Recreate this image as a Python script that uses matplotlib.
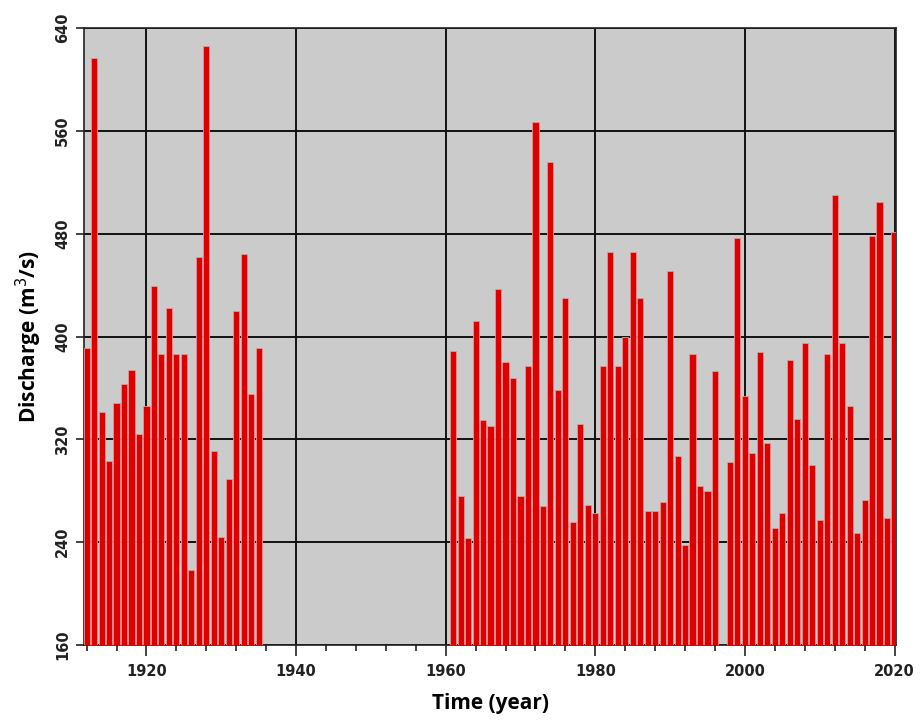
import numpy as np
import matplotlib.pyplot as plt
from matplotlib.ticker import MultipleLocator

# annual discharge, early record
years_early = list(range(1912, 1936))
flow_early = [391, 617, 341, 303, 348, 363, 374, 324, 346, 439, 386, 422,
              386, 386, 218, 462, 626, 311, 244, 289, 420, 464, 355, 391]

# annual discharge, modern record (1997 missing)
years_late = [y for y in range(1961, 2021) if y != 1997]
flow_late = [389, 276, 243, 412, 335, 330, 437, 380, 368, 276,
             377, 567, 268, 536, 358, 430, 256, 332, 269, 263,
             377, 466, 377, 400, 466, 430, 264, 264, 271, 451,
             307, 238, 386, 284, 280, 373,
             302, 477, 354, 309, 388, 317, 251, 263, 382, 336,
             395, 300, 257, 386, 510, 395, 346, 247, 273, 478,
             505, 259, 481]

years = np.array(years_early + years_late)
flow = np.array(flow_early + flow_late)

fig = plt.figure(figsize=(9.21, 7.23), dpi=100)
ax = fig.add_axes([84 / 921, 1 - 645 / 723, 812 / 921, 617 / 723])
ax.set_facecolor("#cbcbcb")

ax.bar(years, flow - 160, bottom=160, width=0.82, color="#dd0000",
       edgecolor="#f09090", linewidth=0.6, zorder=3)

ax.set_xlim(1911.65, 2020.2)
ax.set_ylim(160, 640)
ax.xaxis.set_major_locator(MultipleLocator(20))
ax.xaxis.set_minor_locator(MultipleLocator(4))
ax.yaxis.set_major_locator(MultipleLocator(80))

ax.grid(True, which="major", color="#111111", linewidth=1.4, zorder=1)
ax.set_axisbelow(True)
for s in ax.spines.values():
    s.set_color("#222222")
    s.set_linewidth(1.2)

ax.tick_params(axis="x", which="major", direction="out", length=8,
               width=1.2, colors="#222222", pad=6)
ax.tick_params(axis="y", which="major", direction="out", length=6,
               width=1.2, colors="#222222", pad=4)
ax.tick_params(axis="x", which="minor", direction="out", length=4.5,
               width=1.2, colors="#222222")
for lab in ax.get_xticklabels() + ax.get_yticklabels():
    lab.set_family("DejaVu Sans")
    lab.set_fontsize(10.5)
    lab.set_fontweight("bold")
for lab in ax.get_yticklabels():
    lab.set_rotation(90)
    lab.set_va("center")

ax.set_xlabel("Time (year)", fontsize=15, fontweight="bold",
              family="Open Sans", labelpad=10)
ax.set_ylabel("Discharge (m$^3$/s)", fontsize=15, fontweight="bold",
              family="Open Sans", labelpad=8)

fig.savefig("out.png", dpi=100)
